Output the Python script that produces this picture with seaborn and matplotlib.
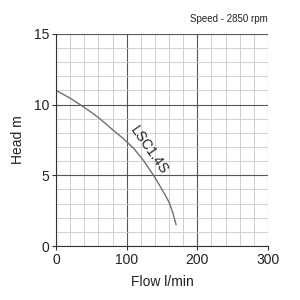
import pandas as pd
import seaborn as sns
import matplotlib.pyplot as plt
from matplotlib.ticker import MultipleLocator

# pump curve
flow = [0, 20, 34, 50, 62, 76, 95, 110, 123, 138, 150, 160, 165, 170]
head = [11.0, 10.45, 10.0, 9.45, 9.0, 8.4, 7.6, 6.9, 6.1, 5.0, 4.0, 3.1, 2.4, 1.5]
x_ticks = [0, 100, 200, 300]
y_ticks = [0, 5, 10, 15]
curve_name = 'LSC1.4S'

df = pd.DataFrame({'flow': flow, 'head': head})

sns.set_style('white')
plt.rcParams['font.family'] = ['Liberation Sans', 'DejaVu Sans']

fig = plt.figure(figsize=(3, 3), dpi=100)
ax = fig.add_axes([0.187, 0.18, 0.706, 0.707])

sns.lineplot(data=df, x='flow', y='head', ax=ax, color='#707070', linewidth=1.0)

ax.set_xlim(0, 300)
ax.set_ylim(0, 15)
ax.xaxis.set_minor_locator(MultipleLocator(20))
ax.yaxis.set_minor_locator(MultipleLocator(1))
ax.set_xticks(x_ticks)
ax.set_yticks(y_ticks)

ax.grid(which='major', color='#555555', linewidth=0.8)
ax.grid(which='minor', color='#c8c8c8', linewidth=0.6)
ax.set_axisbelow(True)

for side in ['top', 'right']:
    ax.spines[side].set_visible(False)
for side in ['left', 'bottom']:
    ax.spines[side].set_color('#333333')
    ax.spines[side].set_linewidth(0.8)

ax.tick_params(which='major', direction='out', length=3, width=0.8, color='#333333',
               labelsize=10, labelcolor='#222222', bottom=True, left=True, pad=2)
ax.tick_params(which='minor', length=0)

ax.set_xlabel('Flow l/min', fontsize=10, color='#222222', labelpad=6)
ax.set_ylabel('Head m', fontsize=10, color='#222222', labelpad=6)

# curve name sits just above the line
ax.text(132, 6.75, curve_name, rotation=-55, fontsize=10, color='#222222',
        ha='center', va='center', rotation_mode='anchor')
fig.text(0.893, 0.935, 'Speed - 2850 rpm', fontsize=7, color='#222222', ha='right', va='center')

fig.savefig('out.png', dpi=100, facecolor='white')
